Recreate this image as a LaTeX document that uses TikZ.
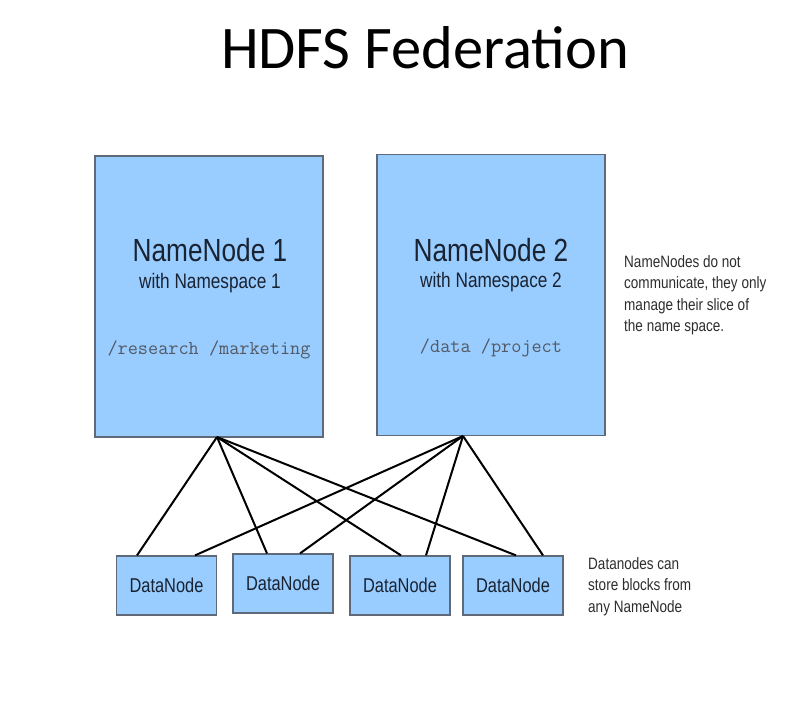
\documentclass[tikz,border=0pt]{standalone}
\usepackage{fontspec}
\newfontfamily\titlefont{Carlito}
\newfontfamily\narrowfont[FakeStretch=0.82]{Liberation Sans}
\definecolor{boxblue}{RGB}{153,204,255}
\definecolor{boxline}{RGB}{95,105,120}
\definecolor{boxtext}{RGB}{25,35,50}
\definecolor{notetext}{RGB}{45,45,45}
\tikzset{
	namebox/.style={draw=boxline, line width=1.2pt, fill=boxblue, minimum width=228pt, minimum height=281pt, inner sep=0pt},
	databox/.style={draw=boxline, line width=1.2pt, fill=boxblue, minimum width=100pt, minimum height=59pt, inner sep=0pt, text=boxtext, font=\narrowfont\fontsize{20}{24}\selectfont},
	bigname/.style={text=boxtext, font=\narrowfont\fontsize{32}{38}\selectfont},
	subname/.style={text=boxtext, font=\narrowfont\fontsize{21}{25}\selectfont},
	pathname/.style={text=boxtext!75, font=\ttfamily\fontsize{19.7}{22}\selectfont},
	note/.style={anchor=north west, align=left, text=notetext, font=\narrowfont\fontsize{16.5}{21.5}\selectfont, inner sep=0pt},
	link/.style={line width=2pt, black}
}
\begin{document}
\begin{tikzpicture}[x=1pt, y=-1pt]
	\useasboundingbox (0, 0) rectangle (802, 706);
	\draw (425, 48) node[font=\titlefont\fontsize{60.5}{70}\selectfont] (title) {HDFS Federation};

	% name nodes
	\draw (209, 296.5) node[namebox] (nn1) {};
	\draw (491, 295) node[namebox] (nn2) {};
	\draw (210, 250) node[bigname] (nn1_name) {NameNode 1};
	\draw (210, 283) node[subname] (nn1_sub) {with Namespace 1};
	\draw (209, 350) node[pathname] (nn1_path) {/research /marketing};
	\draw (491, 250) node[bigname] (nn2_name) {NameNode 2};
	\draw (491, 282) node[subname] (nn2_sub) {with Namespace 2};
	\draw (491, 348) node[pathname] (nn2_path) {/data /project};

	% data nodes
	\draw (166.5, 585.5) node[databox] (dn1) {DataNode};
	\draw (283, 583.5) node[databox] (dn2) {DataNode};
	\draw (400, 585.5) node[databox] (dn3) {DataNode};
	\draw (513, 585.5) node[databox] (dn4) {DataNode};

	\coordinate (hub1) at (217, 437);
	\coordinate (hub2) at (463, 436);

	\draw[link] (hub1) -- ([xshift=-29.5]dn1.north);
	\draw[link] (hub1) -- ([xshift=-16]dn2.north);
	\draw[link] (hub1) -- ([xshift=1]dn3.north);
	\draw[link] (hub1) -- ([xshift=3]dn4.north);
	\draw[link] (hub2) -- ([xshift=28.5]dn1.north);
	\draw[link] (hub2) -- ([xshift=17]dn2.north);
	\draw[link] (hub2) -- ([xshift=26]dn3.north);
	\draw[link] (hub2) -- ([xshift=30]dn4.north);

	% notes
	\draw (624, 255) node[note] (note_nn) {NameNodes do not\\communicate, they only\\manage their slice of\\the name space.};
	\draw (588, 557) node[note] (note_dn) {Datanodes can\\store blocks from\\any NameNode};
\end{tikzpicture}
\end{document}
